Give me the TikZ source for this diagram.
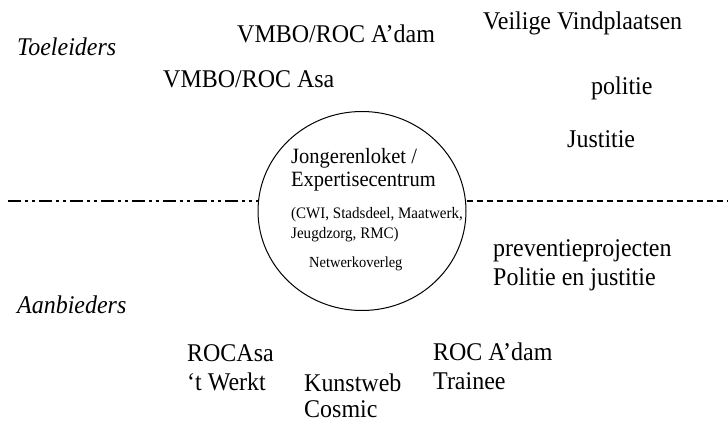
\documentclass[tikz,border=0pt]{standalone}
\usepackage{fontspec}
\setmainfont[FakeStretch=0.94]{Liberation Serif}
\usetikzlibrary{shapes.geometric}

\newcommand{\regels}[1]{\begin{tabular}[t]{@{}l@{}}#1\end{tabular}}

\begin{document}
\begin{tikzpicture}[x=1pt,y=-1pt]
    \tikzstyle{every node}=[inner sep=0pt,anchor=base west]
    \tikzstyle{partner}=[font=\fontsize{25.5}{29}\selectfont]
    \tikzstyle{rol}=[font=\fontsize{25.5}{29}\selectfont\itshape]
    \tikzstyle{scheiding}=[line width=2pt]

    \useasboundingbox (0,0) rectangle (728,423);

    % het loket in het midden
    \node[draw,ellipse,anchor=center,line width=1pt,
          minimum width=208pt,minimum height=199pt] (loket) at (362,211) {};
    \node[font=\fontsize{21.8}{23}\selectfont] (centrum) at (291,163)
        {\regels{Jongerenloket /\\Expertisecentrum}};
    \node[font=\fontsize{16}{20}\selectfont] (partijen) at (291,218)
        {\regels{(CWI, Stadsdeel, Maatwerk,\\Jeugdzorg, RMC)}};
    \node[font=\fontsize{15.4}{18}\selectfont] (overleg) at (309,267) {Netwerkoverleg};

    % scheidslijn
    \coordinate (links) at (8,201);
    \coordinate (rechts) at (728,201);
    \draw[scheiding,dash pattern=on 13pt off 4pt on 3pt off 4pt on 3pt off 4pt]
        (links) -- (links -| loket.west);
    \draw[scheiding,dash pattern=on 6pt off 4pt] (loket.east |- rechts) -- (rechts);

    % toeleiders
    \node[rol] (toe) at (17,55) {Toeleiders};
    \node[partner] (vmboadam) at (237,42) {VMBO/ROC A’dam};
    \node[partner] (vmboasa) at (163,87) {VMBO/ROC Asa};
    \node[partner] (veilig) at (483,29) {Veilige Vindplaatsen};
    \node[partner] (politie) at (591,94) {politie};
    \node[partner] (justitie) at (567,147) {Justitie};

    % aanbieders
    \node[rol] (aan) at (17,313) {Aanbieders};
    \node[partner] (preventie) at (493,256) {\regels{preventieprojecten\\Politie en justitie}};
    \node[partner] (rocasa) at (187,361) {\regels{ROCAsa\\‘t Werkt}};
    \node[partner,font=\fontsize{25.5}{26}\selectfont] (kunst) at (304,391) {\regels{Kunstweb\\Cosmic}};
    \node[partner] (rocadam) at (433,360) {\regels{ROC A’dam\\Trainee}};
\end{tikzpicture}
\end{document}
